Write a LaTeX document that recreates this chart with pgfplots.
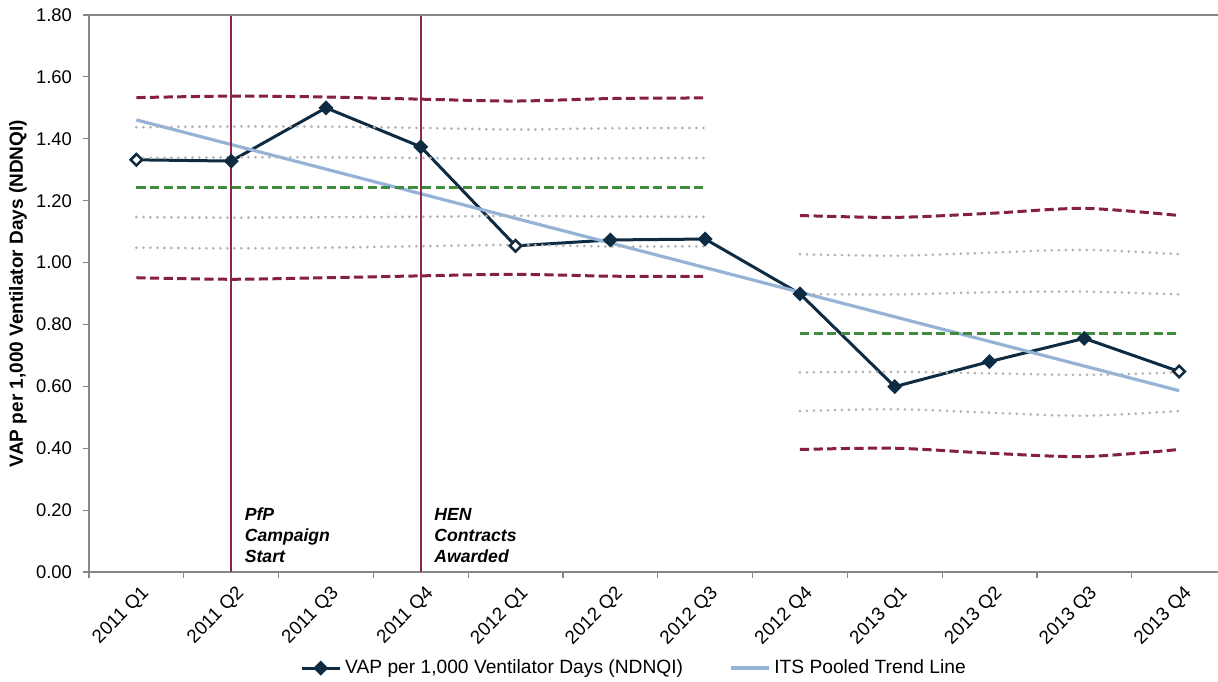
\documentclass[border=0pt]{standalone}
\usepackage{pgfplots}
\pgfplotsset{compat=1.18}
\usepackage{fontspec}
\setmainfont{Liberation Sans}

\definecolor{navy}{RGB}{14,43,66}
\definecolor{trend}{RGB}{149,179,215}
\definecolor{maroon}{RGB}{134,32,62}
\definecolor{vline}{RGB}{140,38,72}
\definecolor{cl}{RGB}{62,140,60}
\definecolor{dots}{RGB}{178,178,178}
\definecolor{axisgray}{RGB}{134,134,134}

\tikzset{
  lim/.style={maroon, line width=1.5pt, dash pattern=on 4.6pt off 2.2pt, smooth},
  ctr/.style={cl, line width=1.5pt, dash pattern=on 4.6pt off 2.2pt},
  sig/.style={dots, line width=1.5pt, line cap=round, dash pattern=on 0pt off 3.5pt, smooth},
}

\begin{document}
\begin{tikzpicture}
\begin{axis}[
    scale only axis,
    width=564.5pt, height=278.5pt,
    xmin=-0.5, xmax=11.41,
    ymin=0, ymax=1.8,
    axis x line*=bottom, axis y line*=left,
    axis line style={axisgray, line width=0.8pt},
    tick align=outside,
    xtick={0,1,2,3,4,5,6,7,8,9,10,11},
    xticklabels={2011 Q1,2011 Q2,2011 Q3,2011 Q4,2012 Q1,2012 Q2,2012 Q3,2012 Q4,2013 Q1,2013 Q2,2013 Q3,2013 Q4},
    x tick style={draw=none},
    extra x ticks={-0.5,0.5,1.5,2.5,3.5,4.5,5.5,6.5,7.5,8.5,9.5,10.5},
    extra x tick labels={},
    extra x tick style={x tick style={draw=axisgray, line width=0.6pt}, major tick length=3pt},
    xticklabel style={font=\fontsize{9.4}{11}\selectfont, rotate=45, anchor=east, yshift=-8pt, xshift=2.5pt},
    ytick={0,0.2,0.4,0.6,0.8,1.0,1.2,1.4,1.6,1.8},
    y tick style={draw=axisgray, line width=0.6pt},
    major tick length=3pt,
    yticklabel style={font=\fontsize{9.2}{11}\selectfont, xshift=-2pt},
    /pgf/number format/.cd, fixed, fixed zerofill, precision=2, assume math mode=true,
    /pgfplots/.cd,
    ylabel={VAP per 1,000 Ventilator Days (NDNQI)},
    ylabel style={font=\bfseries\fontsize{9.5}{11}\selectfont, at={(axis description cs:-0.0629,0.5)}, anchor=center},
    legend style={at={(0.4836,-0.1724)}, anchor=center, draw=none, fill=none,
      font=\fontsize{9.6}{11}\selectfont, legend columns=2,
      /tikz/every even column/.append style={column sep=21pt}},
    legend cell align=left,
    legend image code/.code={\draw[mark repeat=2, mark phase=2, #1] plot coordinates {(0pt,0pt) (9.5pt,0pt) (19pt,0pt)};},
    extra description/.code={\draw[axisgray, line width=0.8pt] (rel axis cs:0,1) -- (rel axis cs:1,1);},
]
% main series
\addplot[navy, line width=1.5pt, mark=square*, mark size=1.9pt, mark options={solid, rotate=45, fill=navy}] coordinates {
  (0,1.332)(1,1.328)(2,1.500)(3,1.374)(4,1.054)(5,1.073)(6,1.076)
  (7,0.899)(8,0.599)(9,0.680)(10,0.755)(11,0.648)
};
\addlegendentry{VAP per 1,000 Ventilator Days (NDNQI)}

% trend
\addplot[trend, line width=1.6pt] coordinates {(0,1.461)(11,0.586)};
\addlegendentry{ITS Pooled Trend Line}

% points that show open in the reference
\addplot[only marks, forget plot, mark=square*, mark size=1.9pt, mark options={rotate=45, draw=navy, fill=white, line width=1pt}] coordinates {
  (0,1.332)(4,1.054)(11,0.648)
};

% period 1 limits
\addplot[lim, forget plot] coordinates {(0,1.533)(1,1.538)(2,1.535)(3,1.528)(4,1.522)(5,1.530)(6,1.532)};
\addplot[sig, forget plot] coordinates {(0,1.437)(1,1.440)(2,1.439)(3,1.435)(4,1.430)(5,1.434)(6,1.435)};
\addplot[sig, forget plot] coordinates {(0,1.338)(1,1.340)(2,1.340)(3,1.338)(4,1.335)(5,1.337)(6,1.338)};
\addplot[ctr, forget plot] coordinates {(0,1.243)(6,1.243)};
\addplot[sig, forget plot] coordinates {(0,1.147)(1,1.145)(2,1.147)(3,1.148)(4,1.151)(5,1.149)(6,1.148)};
\addplot[sig, forget plot] coordinates {(0,1.048)(1,1.046)(2,1.048)(3,1.053)(4,1.057)(5,1.052)(6,1.053)};
\addplot[lim, forget plot] coordinates {(0,0.951)(1,0.946)(2,0.951)(3,0.957)(4,0.962)(5,0.956)(6,0.955)};

% period 2 limits
\addplot[lim, forget plot] coordinates {(7,1.152)(8,1.146)(9,1.159)(10,1.175)(11,1.152)};
\addplot[sig, forget plot] coordinates {(7,1.027)(8,1.022)(9,1.032)(10,1.041)(11,1.027)};
\addplot[sig, forget plot] coordinates {(7,0.898)(8,0.897)(9,0.904)(10,0.906)(11,0.897)};
\addplot[ctr, forget plot] coordinates {(7,0.772)(11,0.772)};
\addplot[sig, forget plot] coordinates {(7,0.645)(8,0.647)(9,0.642)(10,0.637)(11,0.645)};
\addplot[sig, forget plot] coordinates {(7,0.520)(8,0.526)(9,0.515)(10,0.505)(11,0.520)};
\addplot[lim, forget plot] coordinates {(7,0.396)(8,0.400)(9,0.384)(10,0.373)(11,0.396)};

% intervention markers
\addplot[vline, line width=0.8pt, forget plot] coordinates {(1,0)(1,1.8)};
\addplot[vline, line width=0.8pt, forget plot] coordinates {(3,0)(3,1.8)};

\node[anchor=north west, inner sep=0pt, align=left, font=\bfseries\itshape\fontsize{8.8}{10.5}\selectfont]
  at (axis cs:1.14,0.208) {PfP\\Campaign\\Start};
\node[anchor=north west, inner sep=0pt, align=left, font=\bfseries\itshape\fontsize{8.8}{10.5}\selectfont]
  at (axis cs:3.14,0.208) {HEN\\Contracts\\Awarded};
\end{axis}
\pgfresetboundingbox
\path[use as bounding box] (-44.5pt,-54.5pt) rectangle (564.5pt,286pt);
\end{tikzpicture}
\end{document}
